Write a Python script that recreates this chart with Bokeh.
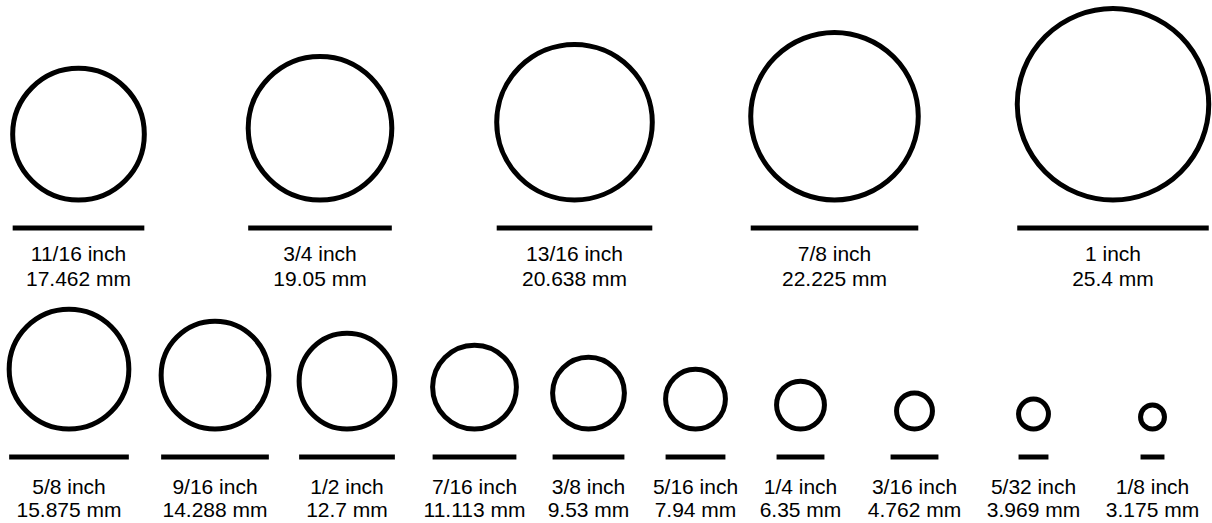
import numpy as np
from bokeh.plotting import figure
from bokeh.models import Range1d, ColumnDataSource
from bokeh.core.properties import value
from bokeh.embed import file_html
from bokeh.resources import INLINE

# ---------------- data ----------------
top_fraction = ["11/16", "3/4", "13/16", "7/8", "1"]
top_inches = [0.6875, 0.75, 0.8125, 0.875, 1.0]
top_mm = ["17.462", "19.05", "20.638", "22.225", "25.4"]
top_bar_inches = [0.6875, 0.75, 0.8125, 0.875, 1.0]

bottom_fraction = ["5/8", "9/16", "1/2", "7/16", "3/8", "5/16", "1/4", "3/16", "5/32", "1/8"]
bottom_inches = [0.625, 0.5625, 0.5, 0.4375, 0.375, 0.3125, 0.25, 0.1875, 0.15625, 0.125]
bottom_mm = ["15.875", "14.288", "12.7", "11.113", "9.53", "7.94", "6.35", "4.762", "3.969", "3.175"]
bottom_bar_inches = [0.625, 0.5625, 0.5, 0.4375, 0.375, 0.3125, 0.25, 0.25, 0.15625, 0.125]

# ---------------- layout (pixels) ----------------
W, H = 1212, 523
PX_PER_INCH = 191.5
top_slot_x = [78, 319.5, 574, 834, 1112.5]
bottom_slot_x = [68.5, 214.5, 346.5, 474, 588, 695, 800, 914, 1033, 1152]
rows = [
    dict(slots=top_slot_x, inches=top_inches, bars=top_bar_inches, frac=top_fraction, mm=top_mm,
         base=199.5, bar=227.5, l1=252.5, l2=277.5),
    dict(slots=bottom_slot_x, inches=bottom_inches, bars=bottom_bar_inches, frac=bottom_fraction, mm=bottom_mm,
         base=428.5, bar=456.5, l1=485.5, l2=508.5),
]

S = PX_PER_INCH
p = figure(width=W, height=H, output_backend="svg", toolbar_location=None,
           x_range=Range1d(0, W / S), y_range=Range1d(H / S, 0),
           min_border=0)
p.axis.visible = False
p.grid.visible = False
p.outline_line_color = None
p.background_fill_color = "white"
p.border_fill_color = "white"

FONT = value("Liberation Sans")
FSIZE = value("21px")

for r in rows:
    cx = np.array(r["slots"]) / S
    d = np.array(r["inches"])
    bl = np.array(r["bars"])
    src = ColumnDataSource(dict(
        x=cx,
        cy=r["base"] / S - d / 2,
        rad=d / 2,
        left=cx - bl / 2,
        right=cx + bl / 2,
        bary=np.full(len(cx), r["bar"] / S),
        l1y=np.full(len(cx), r["l1"] / S),
        l2y=np.full(len(cx), r["l2"] / S),
        t1=[f + " inch" for f in r["frac"]],
        t2=[m + " mm" for m in r["mm"]],
    ))
    p.circle(x="x", y="cy", radius="rad", source=src, fill_color=None,
             line_color="black", line_width=5)
    p.hbar(y="bary", left="left", right="right", height=5 / S, source=src,
           fill_color="black", line_color=None)
    p.text(x="x", y="l1y", text="t1", source=src, text_font=FONT, text_font_size=FSIZE,
           text_align="center", text_baseline="alphabetic", text_color="black")
    p.text(x="x", y="l2y", text="t2", source=src, text_font=FONT, text_font_size=FSIZE,
           text_align="center", text_baseline="alphabetic", text_color="black")

open("out.html", "w").write(file_html(p, INLINE))
